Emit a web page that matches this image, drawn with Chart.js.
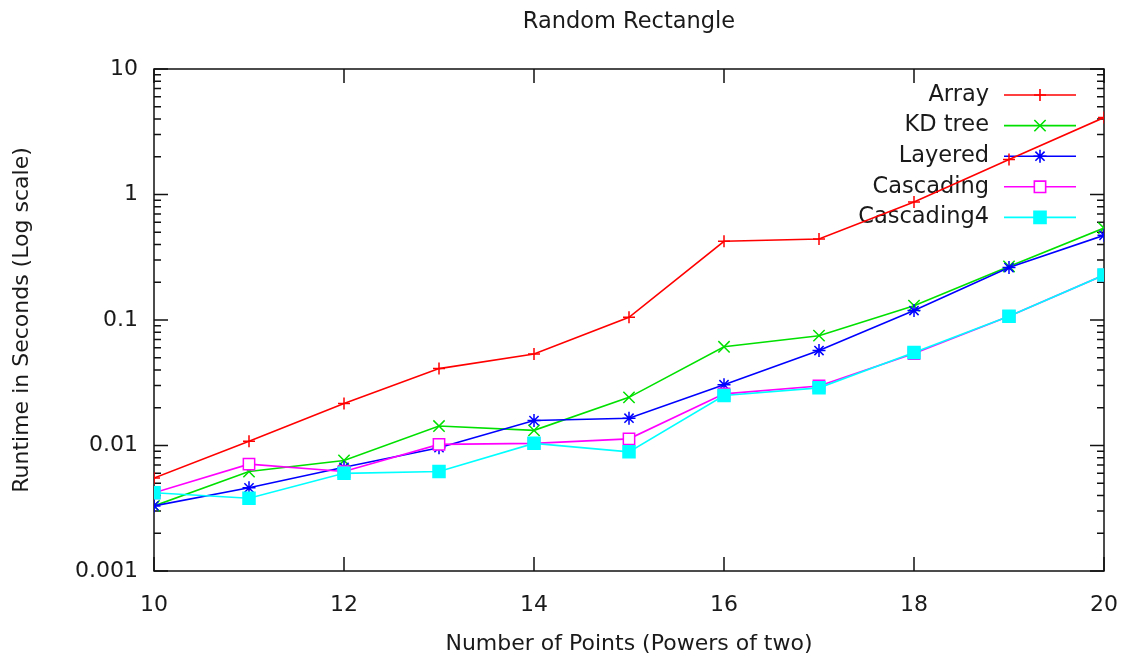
<!DOCTYPE html>
<html>
<head>
<meta charset="utf-8">
<title>Random Rectangle</title>
<script src="https://cdn.jsdelivr.net/npm/chart.js@4.4.1/dist/chart.umd.min.js"></script>
<style>
	body { margin: 0; background: #fff; }
	canvas { display: block; }
</style>
</head>
<body>
<canvas id="chart" width="1125" height="657"></canvas>
<script>
// x = log2 of number of points
var powers = [10, 11, 12, 13, 14, 15, 16, 17, 18, 19, 20];

// runtimes in seconds
var arrayTimes      = [0.0055, 0.0108, 0.0216, 0.041, 0.0535, 0.105, 0.424, 0.442, 0.87, 1.9, 4.1];
var kdTreeTimes     = [0.0033, 0.0062, 0.0076, 0.0143, 0.0132, 0.0242, 0.0612, 0.075, 0.13, 0.267, 0.54];
var layeredTimes    = [0.0033, 0.0046, 0.0067, 0.0096, 0.0158, 0.0165, 0.0305, 0.0571, 0.119, 0.262, 0.473];
var cascadingTimes  = [0.0042, 0.0071, 0.0062, 0.0102, 0.0104, 0.0113, 0.0258, 0.0298, 0.054, 0.107, 0.228];
var cascading4Times = [0.0042, 0.0038, 0.006, 0.0062, 0.0104, 0.0089, 0.025, 0.0288, 0.0552, 0.107, 0.228];

var seriesNames = ['Array', 'KD tree', 'Layered', 'Cascading', 'Cascading4'];

var yTickValues = [0.001, 0.01, 0.1, 1, 10];
var yTickLabels = ['0.001', '0.01', '0.1', '1', '10'];

var FONT = 'DejaVu Sans';
var TEXT = '#1a1a1a';

function toPoints(values) {
	return powers.map(function (p, i) { return { x: p, y: values[i] }; });
}

function makeSet(label, values, color, style, radius, fill, order) {
	return {
		label: label,
		data: toPoints(values),
		borderColor: color,
		backgroundColor: color,
		borderWidth: 1.6,
		pointStyle: style,
		pointRadius: radius,
		pointBorderWidth: 1.5,
		pointBorderColor: color,
		pointBackgroundColor: fill,
		tension: 0,
		order: order
	};
}

// gnuplot look: closed frame, inward mirrored ticks, key in top right corner
var gnuplotFrame = {
	id: 'gnuplotFrame',
	afterLayout: function (chart) {
		// centre the title over the plot box like gnuplot does
		var a = chart.chartArea;
		if (chart.titleBlock) {
			chart.titleBlock.left = a.left;
			chart.titleBlock.right = a.right;
		}
	},
	beforeDatasetsDraw: function (chart) {
		var ctx = chart.ctx, a = chart.chartArea;
		var x = chart.scales.x, y = chart.scales.y;
		ctx.save();
		ctx.strokeStyle = '#111';
		ctx.lineWidth = 1.5;
		ctx.strokeRect(a.left, a.top, a.right - a.left, a.bottom - a.top);

		ctx.beginPath();
		for (var e = -3; e <= 1; e++) {
			for (var m = 1; m <= 9; m++) {
				if (e === 1 && m > 1) break;
				var py = y.getPixelForValue(m * Math.pow(10, e));
				var len = m === 1 ? 14 : 7;
				ctx.moveTo(a.left, py); ctx.lineTo(a.left + len, py);
				ctx.moveTo(a.right, py); ctx.lineTo(a.right - len, py);
			}
		}
		x.ticks.forEach(function (t) {
			var px = x.getPixelForValue(t.value);
			ctx.moveTo(px, a.bottom); ctx.lineTo(px, a.bottom - 14);
			ctx.moveTo(px, a.top); ctx.lineTo(px, a.top + 14);
		});
		ctx.stroke();

		// key
		ctx.font = '22.5px "' + FONT + '"';
		ctx.textAlign = 'right';
		ctx.textBaseline = 'middle';
		chart.data.datasets.forEach(function (ds, i) {
			var ry = a.top + 26 + i * 30.6;
			ctx.fillStyle = TEXT;
			ctx.fillText(ds.label, a.right - 115, ry);
			ctx.strokeStyle = ds.borderColor;
			ctx.lineWidth = 1.6;
			ctx.beginPath();
			ctx.moveTo(a.right - 100, ry);
			ctx.lineTo(a.right - 28, ry);
			ctx.stroke();
			ctx.fillStyle = ds.pointBackgroundColor;
			Chart.helpers.drawPoint(ctx, {
				pointStyle: ds.pointStyle,
				radius: ds.pointRadius,
				borderWidth: 1.5,
				rotation: 0
			}, a.right - 64, ry);
		});
		ctx.restore();
	}
};

var chart = new Chart(document.getElementById('chart'), {
	type: 'line',
	data: {
		datasets: [
			makeSet(seriesNames[0], arrayTimes, '#ff0000', 'cross', 6, '#ff0000', 5),
			makeSet(seriesNames[1], kdTreeTimes, '#00e000', 'crossRot', 8, '#00e000', 4),
			makeSet(seriesNames[2], layeredTimes, '#0000ff', 'star', 6.5, '#0000ff', 3),
			makeSet(seriesNames[3], cascadingTimes, '#ff00ff', 'rect', 8, '#ffffff', 2),
			makeSet(seriesNames[4], cascading4Times, '#00ffff', 'rect', 8.5, '#00ffff', 1)
		]
	},
	options: {
		responsive: false,
		animation: false,
		devicePixelRatio: 1,
		layout: { padding: { left: 0, right: 21, top: 0, bottom: 0 } },
		plugins: {
			legend: { display: false },
			tooltip: { enabled: false },
			title: {
				display: true,
				text: 'Random Rectangle',
				color: TEXT,
				font: { family: FONT, size: 22.5, weight: 'normal' },
				padding: { top: 9, bottom: 33 }
			}
		},
		scales: {
			x: {
				type: 'linear',
				min: 10,
				max: 20,
				grid: { display: false, drawTicks: false },
				border: { display: false },
				ticks: { stepSize: 2, padding: 21, color: TEXT, font: { family: FONT, size: 22 } },
				title: {
					display: true,
					text: 'Number of Points (Powers of two)',
					color: TEXT,
					font: { family: FONT, size: 22 },
					padding: { top: 0, bottom: 0 }
				},
				afterFit: function (s) {
					s.height = 86;
					s.paddingLeft = 0;
					s.paddingRight = 0;
				}
			},
			y: {
				type: 'logarithmic',
				min: 0.001,
				max: 10,
				grid: { display: false, drawTicks: false },
				border: { display: false },
				afterBuildTicks: function (s) {
					s.ticks = yTickValues.map(function (v) { return { value: v }; });
				},
				ticks: {
					padding: 16,
					color: TEXT,
					font: { family: FONT, size: 22 },
					callback: function (v) {
						var i = yTickValues.indexOf(v);
						return i >= 0 ? yTickLabels[i] : '';
					}
				},
				title: {
					display: true,
					text: 'Runtime in Seconds (Log scale)',
					color: TEXT,
					font: { family: FONT, size: 22 },
					padding: { top: 9, bottom: 0 }
				},
				afterFit: function (s) { s.width = 154; }
			}
		}
	},
	plugins: [gnuplotFrame]
});
</script>
</body>
</html>
